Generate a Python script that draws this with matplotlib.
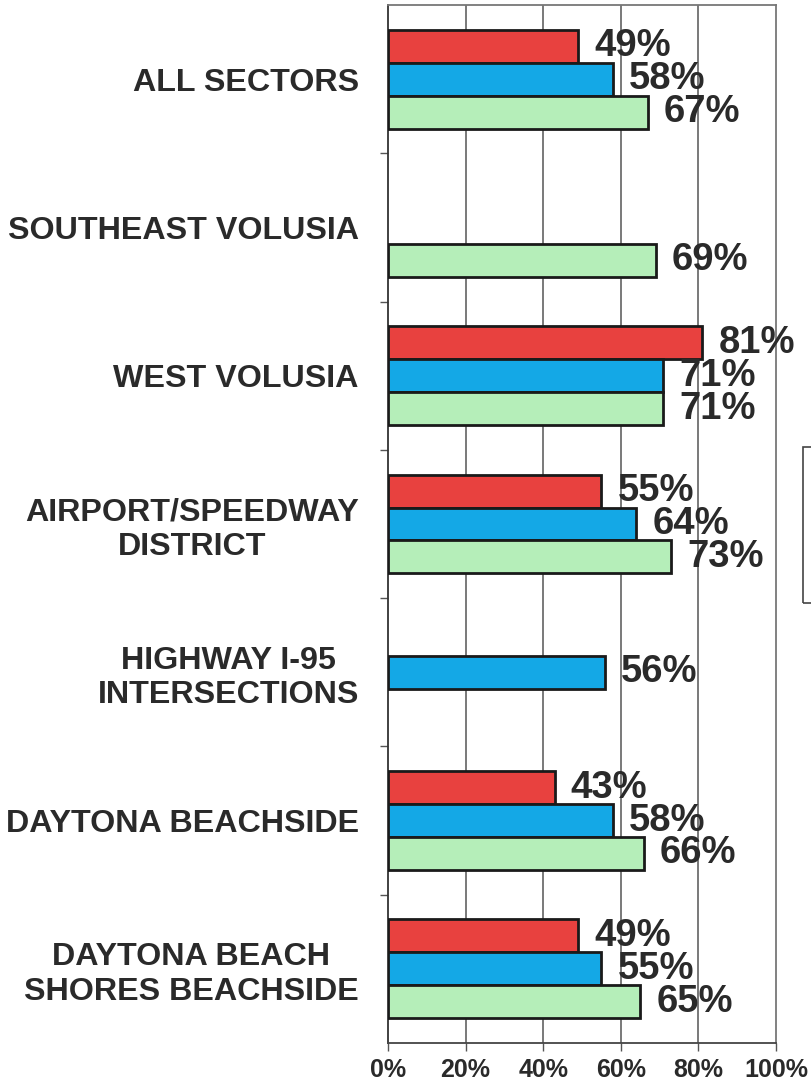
import matplotlib
matplotlib.use("Agg")
import matplotlib.pyplot as plt
from matplotlib.patches import Rectangle
import numpy as np

categories = ["ALL SECTORS", "SOUTHEAST VOLUSIA", "WEST VOLUSIA",
              "AIRPORT/SPEEDWAY\nDISTRICT", "HIGHWAY I-95\nINTERSECTIONS",
              "DAYTONA BEACHSIDE", "DAYTONA BEACH\nSHORES BEACHSIDE"]
red_vals = [49, None, 81, 55, None, 43, 49]
blue_vals = [58, None, 71, 64, 56, 58, 55]
green_vals = [67, 69, 71, 73, None, 66, 65]
xtick_vals = [0, 20, 40, 60, 80, 100]
xtick_labels = ["0%", "20%", "40%", "60%", "80%", "100%"]

plt.rcParams['font.family'] = ['Liberation Sans', 'DejaVu Sans']
TXT = '#2a2a2a'

fig = plt.figure(figsize=(8.11, 10.87), dpi=100)
ax = fig.add_axes([388/811, 44/1087, 388/811, 1038/1087])

h = 0.222
series = [(red_vals, '#E8413F', -h), (blue_vals, '#14A8E6', 0.0), (green_vals, '#B5EEB9', h)]
y = np.arange(len(categories))
for vals, col, off in series:
    for i, v in enumerate(vals):
        if v is None:
            continue
        ax.barh(i + off, v, height=h, color=col, edgecolor='#1a1a1a', linewidth=2, zorder=3)
        ax.annotate(f"{v}%", xy=(v, i + off), xytext=(16, 0), textcoords='offset pixels',
                    ha='left', va='center', fontsize=27.5, fontweight='bold', color=TXT,
                    zorder=5, annotation_clip=False)

ax.set_xlim(0, 100)
ax.set_ylim(len(categories) - 0.5, -0.5)
ax.set_xticks(xtick_vals)
ax.set_xticklabels(xtick_labels, fontsize=18, fontweight='bold', color=TXT)
ax.set_yticks(y)
ax.set_yticklabels(categories, fontsize=23.2, fontweight='bold', color=TXT,
                   multialignment='center')
ax.tick_params(axis='y', length=0, pad=21)
ax.set_yticks(np.arange(0.5, len(categories) - 0.5, 1.0), minor=True)
ax.tick_params(axis='y', which='minor', length=6, width=1, color='#555555', direction='out')
ax.tick_params(axis='x', length=6, width=1, color='#555555', direction='out', pad=5)

for xv in [20, 40, 60, 80]:
    ax.axvline(xv, color='#555555', linewidth=1.1, zorder=1)

for side, sp in ax.spines.items():
    sp.set_color('#777777')
    sp.set_linewidth(1.3)
ax.spines['left'].set_color('#333333')
ax.spines['bottom'].set_color('#444444')

# partially visible legend box at the right edge
fig.patches.append(Rectangle((803/811, (1087-603)/1087), 40/811, 156/1087,
                             transform=fig.transFigure, fill=False,
                             edgecolor='#444444', linewidth=1.2))

fig.savefig("out.png", dpi=100)
